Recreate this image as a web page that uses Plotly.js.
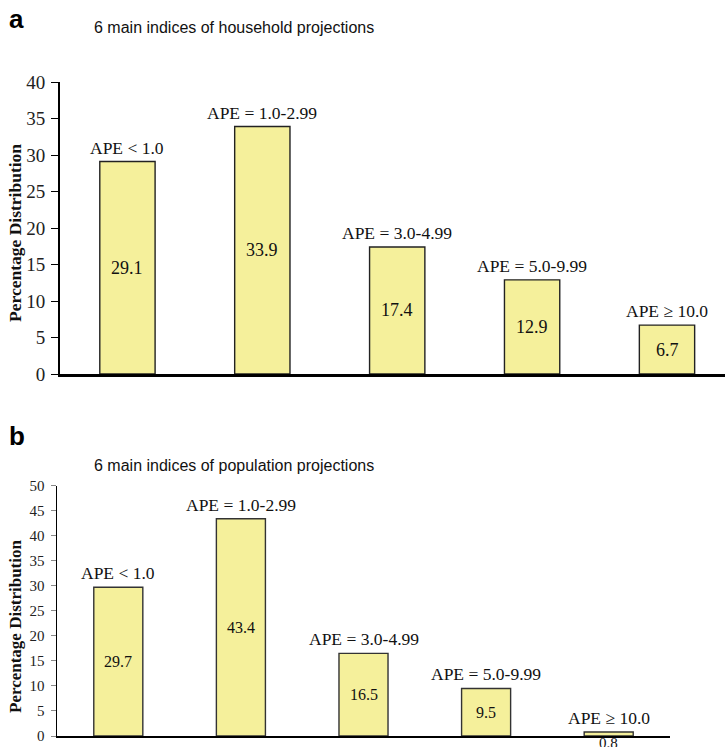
<!DOCTYPE html>
<html>
<head>
<meta charset="utf-8">
<script src="https://cdn.plot.ly/plotly-3.0.1.min.js"></script>
<style>html,body{margin:0;padding:0;background:#fff;}#chart{width:725px;height:747px;}</style>
</head>
<body>
<div id="chart"></div>
<script>
const categories = ["APE < 1.0", "APE = 1.0-2.99", "APE = 3.0-4.99", "APE = 5.0-9.99", "APE \u2265 10.0"];
const householdValues = [29.1, 33.9, 17.4, 12.9, 6.7];
const populationValues = [29.7, 43.4, 16.5, 9.5, 0.8];
const householdTicks = [0, 5, 10, 15, 20, 25, 30, 35, 40];
const populationTicks = [0, 5, 10, 15, 20, 25, 30, 35, 40, 45, 50];
const titleA = "6 main indices of household projections";
const titleB = "6 main indices of population projections";
const yTitle = "Percentage Distribution";

const W = 725, H = 747;
const serif = "Liberation Serif, Times New Roman, serif";
const sans = "Liberation Sans, Arial, sans-serif";
const barFill = "#f5f09b";
const barLine = "#222222";
const idx = categories.map((c, i) => i);

const traces = [
  {type: "bar", x: idx, y: householdValues, xaxis: "x", yaxis: "y", width: 0.41,
   marker: {color: barFill, line: {color: barLine, width: 1.4}}, hoverinfo: "skip"},
  {type: "bar", x: idx, y: populationValues, xaxis: "x2", yaxis: "y2", width: 0.4,
   marker: {color: barFill, line: {color: "#333", width: 1.4}}, hoverinfo: "skip"}
];

const annotations = [];
function addLabels(vals, xa, ya, size, valSize) {
  vals.forEach((v, i) => {
    annotations.push({xref: xa, yref: ya, x: i, y: v, text: categories[i], showarrow: false,
      yanchor: "bottom", yshift: 2, font: {family: serif, size: size, color: "#111"}});
    if (v >= 3) {
      annotations.push({xref: xa, yref: ya, x: i, y: v / 2, text: v.toFixed(1), showarrow: false,
        yanchor: "middle", font: {family: serif, size: valSize, color: "#111"}});
    } else {
      annotations.push({xref: xa, yref: ya, x: i, y: 0, text: v.toFixed(1), showarrow: false,
        yanchor: "top", yshift: 3, font: {family: serif, size: valSize - 1, color: "#111"}});
    }
  });
}
addLabels(householdValues, "x", "y", 17.5, 18);
addLabels(populationValues, "x2", "y2", 17.5, 16);

annotations.push({xref: "paper", yref: "paper", x: 7 / W, y: 1 - 19 / H, xanchor: "left", yanchor: "middle",
  text: "<b>a</b>", showarrow: false, font: {family: sans, size: 26, color: "#000"}});
annotations.push({xref: "paper", yref: "paper", x: 92 / W, y: 1 - 27 / H, xanchor: "left", yanchor: "middle",
  text: titleA, showarrow: false, font: {family: sans, size: 16, color: "#111"}});
annotations.push({xref: "paper", yref: "paper", x: 7 / W, y: 1 - 436 / H, xanchor: "left", yanchor: "middle",
  text: "<b>b</b>", showarrow: false, font: {family: sans, size: 26, color: "#000"}});
annotations.push({xref: "paper", yref: "paper", x: 92 / W, y: 1 - 465 / H, xanchor: "left", yanchor: "middle",
  text: titleB, showarrow: false, font: {family: sans, size: 16, color: "#111"}});
annotations.push({xref: "paper", yref: "paper", x: 15 / W, y: 1 - 233 / H, xanchor: "center", yanchor: "middle",
  textangle: -90, text: "<b>" + yTitle + "</b>", showarrow: false, font: {family: serif, size: 17.5, color: "#111"}});
annotations.push({xref: "paper", yref: "paper", x: 15 / W, y: 1 - 626 / H, xanchor: "center", yanchor: "middle",
  textangle: -90, text: "<b>" + yTitle + "</b>", showarrow: false, font: {family: serif, size: 17, color: "#111"}});

const yCommon = {showline: true, linecolor: "#000", linewidth: 2, ticks: "outside", ticklen: 7, tickcolor: "#000",
  showgrid: false, zeroline: false, fixedrange: true};
const xCommon = {showline: true, linecolor: "#000", linewidth: 2.5, ticks: "", showticklabels: false,
  showgrid: false, zeroline: false, fixedrange: true};

const layout = {
  width: W, height: H, margin: {l: 0, r: 0, t: 0, b: 0},
  paper_bgcolor: "#fff", plot_bgcolor: "rgba(0,0,0,0)", showlegend: false, bargap: 0,
  xaxis: Object.assign({}, xCommon, {domain: [60 / W, 1], range: [-0.5, 4.43], anchor: "y"}),
  yaxis: Object.assign({}, yCommon, {domain: [(H - 374) / H, (H - 82) / H], range: [0, 40], tickvals: householdTicks,
    anchor: "x", ticklabelstandoff: 2, tickfont: {family: serif, size: 19, color: "#222"}}),
  xaxis2: Object.assign({}, xCommon, {domain: [57 / W, 670 / W], range: [-0.5, 4.5], anchor: "y2", linewidth: 2}),
  yaxis2: Object.assign({}, yCommon, {domain: [(H - 736) / H, (H - 485.7) / H], range: [0, 50], tickvals: populationTicks,
    anchor: "x2", linewidth: 1.5, ticklen: 5, tickcolor: "#888", ticklabelstandoff: 3,
    tickfont: {family: serif, size: 15, color: "#222"}}),
  annotations: annotations
};

Plotly.newPlot("chart", traces, layout, {displayModeBar: false, staticPlot: true});
</script>
</body>
</html>
